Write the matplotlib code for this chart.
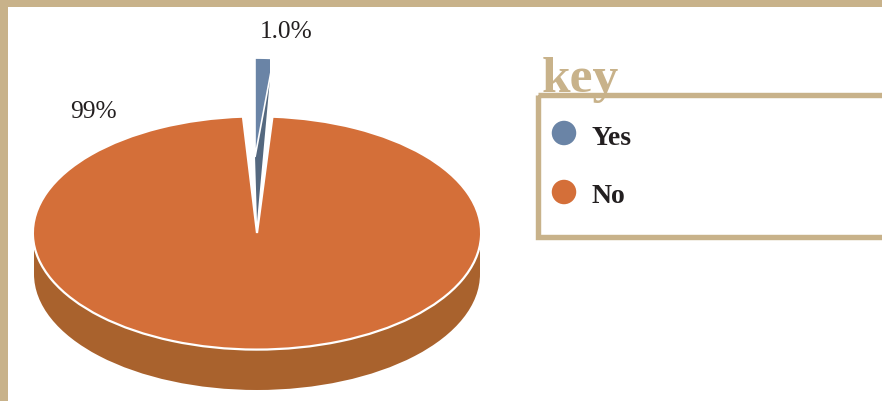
import matplotlib
matplotlib.use("Agg")
import matplotlib.pyplot as plt
from matplotlib.patches import Rectangle

categories = ["Yes", "No"]
percent_labels = ["1.0%", "99%"]
yes_top = [1.55, 98.45]    # top face as drawn, cut off at its right side below
yes_side = [1, 99]         # slice wall
no_slice = [97.9, 2.1]     # orange is drawn with a wider notch than 99%

BLUE = "#6A84A6"
BLUE_DARK = "#54687F"
ORANGE = "#D46F39"
BROWN = "#A9622D"
TAN = "#C8B28A"
INK = "#231F20"

W, H = 882, 401
CX, CY = 257, 233     # pie centre in pixels
RX, RY = 223, 116     # pie radii in pixels


def to_pie(px, py):
    return (px - CX) / RX, (CY - py) / RY


def one_slice(ax, values, color, **kw):
    # pie() draws the rest of the circle too, only the first wedge is wanted
    wedges, _ = ax.pie(values, colors=[color, "none"], **kw)
    wedges[1].remove()
    return wedges[0]


plt.rcParams["font.family"] = ["Liberation Serif", "DejaVu Serif"]
fig = plt.figure(figsize=(W / 100, H / 100), dpi=100)

# squashed pie: x and y have different scales, that gives the ellipse
ax = fig.add_axes([0, 0, 1, 1])
one_slice(ax, [50, 50], BROWN, startangle=180, center=to_pie(CX, CY + 41), radius=1,
          wedgeprops={"linewidth": 0})
ax.fill_between([-1, 1], to_pie(0, CY + 17)[1], to_pie(0, CY + 41)[1], color=BROWN, lw=0)
one_slice(ax, no_slice, ORANGE, startangle=93.6, center=(0, 0), radius=1.005,
          wedgeprops={"edgecolor": "white", "linewidth": 1.6})

side = one_slice(ax, yes_side, BLUE_DARK, startangle=87.3, center=to_pie(257, 222), radius=1.241,
                 wedgeprops={"linewidth": 0})
top = one_slice(ax, yes_top, BLUE, startangle=84.43, center=to_pie(255, 157), radius=0.853,
                wedgeprops={"edgecolor": "white", "linewidth": 1.2})

ax.set_aspect("auto")
ax.set_xlim(to_pie(0, 0)[0], to_pie(W, 0)[0])
ax.set_ylim(to_pie(0, H)[1], to_pie(0, 0)[1])
ax.axis("off")

# pie() switches clipping off, the raised slice has straight sides at x=255 and x=270
for wedge in (side, top):
    wedge.set_clip_on(True)
    wedge.set_clip_path(Rectangle(to_pie(255, 240), 15 / RX, 200 / RY, transform=ax.transData))

# everything else in pixel coordinates
px = fig.add_axes([0, 0, 1, 1])
px.set_xlim(0, W)
px.set_ylim(H, 0)
px.axis("off")
px.patch.set_alpha(0)

px.add_patch(Rectangle((0, 0), W, 7, color=TAN, lw=0))
px.add_patch(Rectangle((0, 0), 8, H, color=TAN, lw=0))

px.text(286, 38, percent_labels[0], fontsize=18.3, color=INK, ha="center", va="baseline")
px.text(93, 118, percent_labels[1], fontsize=18.3, color=INK, ha="center", va="baseline")

# key box runs off the right edge
px.add_patch(Rectangle((537.5, 94.5), 400, 142.5, fill=False, edgecolor=TAN, linewidth=3.9))
px.text(542, 92, "key", fontsize=37, fontweight="bold", color=TAN, ha="left", va="baseline")

px.scatter([564, 564], [133, 192], s=311, c=[BLUE, ORANGE], linewidths=0)
px.text(592, 145, categories[0], fontsize=20, fontweight="bold", color=INK, va="baseline")
px.text(591, 203, categories[1], fontsize=20, fontweight="bold", color=INK, va="baseline")

fig.savefig("out.png", dpi=100)
